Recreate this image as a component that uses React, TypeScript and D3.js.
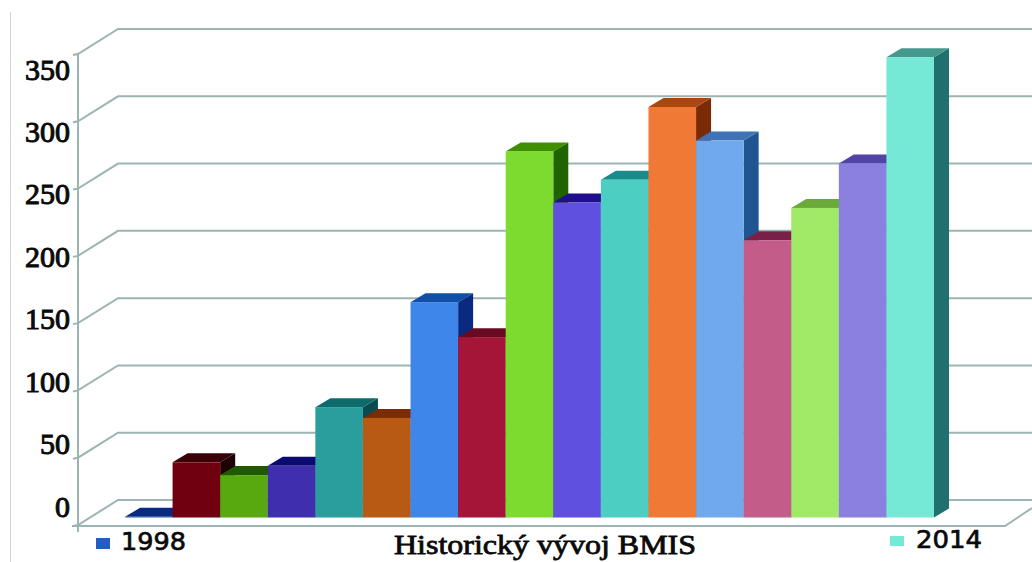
import React from "react";
import * as d3 from "d3";

const years = d3.range(1998, 2015).map(String);
const counts = [0.5, 41, 31.5, 38.5, 82, 74, 160, 134, 272, 234, 251, 305, 280, 206, 230, 263, 342];
const ticks = [0, 50, 100, 150, 200, 250, 300, 350];
const frontColors = ["#1f5fbf", "#700010", "#58a810", "#3f2fae", "#2a9d9d", "#b95a14", "#3f86ea", "#a51538", "#7ddb30", "#5f50e0", "#4ccfc2", "#f07a35", "#70a9ee", "#c45c8a", "#a0ea68", "#8b80e0", "#76e8d6"];
const topColors = ["#0a2a80", "#3a0006", "#1f5a00", "#0a0a70", "#0f6b6b", "#7a2c05", "#0f4fa5", "#6a0a20", "#3f8f00", "#1f0f90", "#1a8a8a", "#a8480f", "#3f73b5", "#7a2048", "#6aaa3a", "#5045a5", "#45988e"];
const sideColors = ["#061a5c", "#1f0004", "#123c00", "#060650", "#0a4a50", "#5c2003", "#0a2a80", "#4a0716", "#1f6400", "#261a80", "#126864", "#7a2a05", "#1f5590", "#5e1c3a", "#4a8026", "#38308a", "#20706f"];

const W = 1032;
const H = 562;
const depthX = 15;
const depthY = 9;
const wallDX = 40;
const wallDY = 25;

const xBand = d3.scaleBand<string>().domain(years).range([125, 934]).padding(0);
const yBar = d3.scaleLinear().domain([0, 350]).range([517.5, 46.4]);
const yBack = d3.scaleLinear().domain([0, 350]).range([500, 29]);
const yLabel = d3.scaleLinear().domain([0, 350]).range([506, 69]);

const gridColor = "#9db5b2";
const serif = "'Liberation Serif', serif";
const sans = "'DejaVu Sans', sans-serif";

const poly = (pts: number[][]) => pts.map((p) => p.join(",")).join(" ");

export default function App() {
  const leftX = 78;
  const backX = leftX + wallDX;
  return (
    <svg
      width={W}
      height={H}
      viewBox={`0 0 ${W} ${H}`}
      style={{ position: "fixed", left: 0, top: 0, background: "#fff" }}
    >
      <line x1={10.5} x2={10.5} y1={12} y2={H} stroke="#d5d5d5" strokeWidth={1} />

      {/* Back wall grid with its slanted returns on the left wall */}
      <g stroke={gridColor} strokeWidth={2} fill="none">
        {ticks.map((t) => (
          <polyline
            key={t}
            points={poly([
              [leftX - 5, yBack(t) + wallDY + 1],
              [leftX, yBack(t) + wallDY],
              [backX, yBack(t)],
              [W, yBack(t)],
            ])}
          />
        ))}
        <line x1={leftX} x2={leftX} y1={yBack(350) + wallDY} y2={yBack(0) + wallDY + 7} />
        <polyline
          points={poly([
            [leftX - 6, yBack(0) + wallDY + 1],
            [1005, yBack(0) + wallDY + 1],
            [1032, 508],
          ])}
        />
      </g>

      {/* Extruded bars, painted left to right so each covers its neighbour's side */}
      {years.map((yr, i) => {
        const x0 = xBand(yr)!;
        const x1 = x0 + xBand.bandwidth();
        const top = yBar(counts[i]);
        const base = yBar(0);
        return (
          <g key={yr}>
            <polygon
              fill={sideColors[i]}
              points={poly([
                [x1, top],
                [x1 + depthX, top - depthY],
                [x1 + depthX, base - depthY],
                [x1, base],
              ])}
            />
            <polygon
              fill={topColors[i]}
              points={poly([
                [x0, top],
                [x0 + depthX, top - depthY],
                [x1 + depthX, top - depthY],
                [x1, top],
              ])}
            />
            <rect x={x0} y={top} width={x1 - x0} height={base - top} fill={frontColors[i]} />
          </g>
        );
      })}

      {/* Value labels */}
      <g fontFamily={serif} fontSize={30} fill="#0a0a0a" stroke="#0a0a0a" strokeWidth={1} textAnchor="end">
        {ticks.map((t) => (
          <text key={t} x={70} y={yLabel(t)} dominantBaseline="central">
            {t}
          </text>
        ))}
      </g>

      {/* Footer: first and last year with the caption between them */}
      <rect x={96} y={538} width={14} height={11} fill={frontColors[0]} />
      <text x={121} y={550} fontFamily={sans} fontSize={25} fill="#0a0a0a" stroke="#0a0a0a" strokeWidth={0.7} textLength={65} lengthAdjust="spacingAndGlyphs">
        {years[0]}
      </text>
      <text x={394} y={554} fontFamily={serif} fontSize={27.5} fill="#0a0a0a" stroke="#0a0a0a" strokeWidth={0.8} textLength={302} lengthAdjust="spacingAndGlyphs">
        Historický vývoj BMIS
      </text>
      <rect x={890} y={536} width={14} height={10} fill={frontColors[16]} />
      <text x={916} y={548} fontFamily={sans} fontSize={25} fill="#0a0a0a" stroke="#0a0a0a" strokeWidth={0.7} textLength={66} lengthAdjust="spacingAndGlyphs">
        {years[16]}
      </text>
    </svg>
  );
}
